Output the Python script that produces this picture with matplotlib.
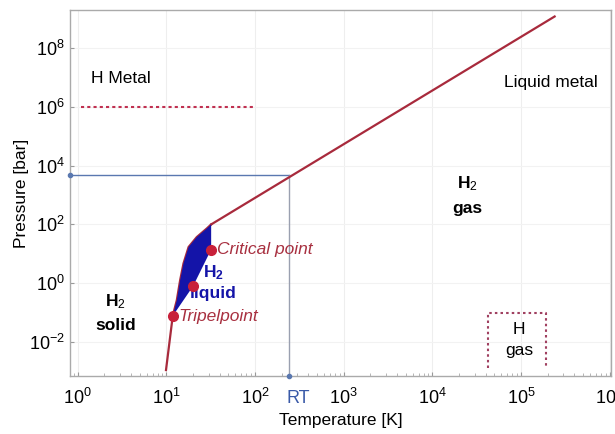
import matplotlib
matplotlib.use("Agg")
import matplotlib.pyplot as plt
from matplotlib.ticker import LogLocator, FixedLocator, NullFormatter

plt.rcParams['font.family'] = ['Liberation Sans', 'DejaVu Sans']
plt.rcParams['mathtext.fontset'] = 'custom'
plt.rcParams['mathtext.rm'] = 'Liberation Sans'
plt.rcParams['mathtext.it'] = 'Liberation Sans:italic'
plt.rcParams['mathtext.bf'] = 'Liberation Sans:bold'

# --- data ---
melt_T = [9.9, 11.8, 13.1, 14.3, 15.6, 17.8, 22, 28.6, 32]
melt_P = [1.1e-3, 0.077, 0.26, 1.27, 4.7, 17, 37, 73, 100]
high_T = [32, 2.4e5]
high_P = [100, 1.2e9]
boil_T = [11.8, 20, 32]
boil_P = [0.077, 0.79, 14]
crit_top_T = [32, 32]
crit_top_P = [100, 14]
point_T = [11.8, 20, 32]
point_P = [0.077, 0.79, 14]
metal_T = [1.1, 95]
metal_P = [1e6, 1e6]
hgas_T = [4.2e4, 4.2e4, 1.9e5, 1.9e5]
hgas_P = [1.3e-3, 0.1, 0.1, 1.3e-3]
RT_T = 240
RT_P = 4700
x_ticks = [1e0, 1e1, 1e2, 1e3, 1e4, 1e5, 1e6]
x_labels = ['$10^0$', '$10^1$', '$10^2$', '$10^3$', '$10^4$', '$10^5$', '$10^6$']
y_ticks = [1e-2, 1e0, 1e2, 1e4, 1e6, 1e8]
y_labels = ['$10^{-2}$', '$10^0$', '$10^2$', '$10^4$', '$10^6$', '$10^8$']

red = '#a82a3c'
navy = '#1414a8'
linecol = '#5a78b0'
textred = '#a83040'

fig = plt.figure(figsize=(6.15, 4.34), dpi=100)
ax = fig.add_axes([0.114, 0.134, 0.879, 0.843])
ax.set_xscale('log')
ax.set_yscale('log')
xmin, xmax = 0.82, 1.03e6
ymin, ymax = 7e-4, 2e9
ax.set_xlim(xmin, xmax)
ax.set_ylim(ymin, ymax)

# grid
for t in x_ticks:
    ax.axvline(t, color='#eeeeee', lw=0.8, zorder=0)
for t in y_ticks:
    ax.axhline(t, color='#f2f2f2', lw=0.8, zorder=0)

# RT guide lines
ax.plot([xmin, RT_T], [RT_P, RT_P], color=linecol, lw=1.0, zorder=2)
ax.plot([RT_T, RT_T], [ymin, RT_P], color='#9aa0b0', lw=1.0, zorder=2)
ax.plot([xmin], [RT_P], 'o', color=linecol, ms=3, clip_on=False, zorder=5)
ax.plot([RT_T], [ymin], 'o', color=linecol, ms=3, clip_on=False, zorder=5)

# phase lines
ax.plot(melt_T, melt_P, color=red, lw=1.6, zorder=3)
ax.plot(high_T, high_P, color=red, lw=1.6, zorder=3)

# liquid region
poly_T = melt_T[1:] + crit_top_T[1:] + boil_T[::-1][1:]
poly_P = melt_P[1:] + crit_top_P[1:] + boil_P[::-1][1:]
ax.fill(poly_T, poly_P, color=navy, zorder=4, lw=0)

ax.plot(point_T, point_P, 'o', color='#c8203a', ms=7, zorder=6)

# H metal line and H gas box
ax.plot(metal_T, metal_P, color='#c03050', lw=1.5, ls=(0, (1.5, 1.5)), zorder=3)
ax.plot(hgas_T, hgas_P, color='#a04060', lw=1.5, ls=(0, (1.2, 1.5)), zorder=3)

# texts
fs = 12.5
ax.text(1.4, 9e6, 'H Metal', fontsize=fs, va='center', ha='left')
ax.text(2.2e5, 7e6, 'Liquid metal', fontsize=fs, va='center', ha='center')
ax.text(2.5e4, 1.0e3, 'H$_2$\ngas', fontsize=fs, fontweight='bold', va='center',
        ha='center', linespacing=1.6)
ax.text(2.65, 0.1, 'H$_2$\nsolid', fontsize=fs, fontweight='bold', va='center',
        ha='center', linespacing=1.6)
ax.text(34, 1.1, '$\\mathbf{H_2}$\nliquid', fontsize=fs, fontweight='bold',
        color=navy, va='center', ha='center', linespacing=1.35, zorder=5)
ax.text(37, 14, 'Critical point', fontsize=fs, style='italic', color=textred,
        va='center', ha='left')
ax.text(13.6, 0.075, 'Tripelpoint', fontsize=fs, style='italic', color=textred,
        va='center', ha='left')
ax.text(9.5e4, 0.0115, 'H\ngas', fontsize=fs, va='center', ha='center', linespacing=1.5)

# axes styling
ax.xaxis.set_major_locator(FixedLocator(x_ticks))
ax.set_xticklabels(x_labels)
ax.xaxis.set_minor_locator(LogLocator(base=10, subs=range(2, 10), numticks=20))
ax.xaxis.set_minor_formatter(NullFormatter())
ax.yaxis.set_major_locator(FixedLocator(y_ticks))
ax.set_yticklabels(y_labels)
ax.yaxis.set_minor_locator(FixedLocator([]))
ax.tick_params(axis='both', which='major', labelsize=13, direction='in', length=3,
               color='#999999')
ax.tick_params(axis='x', which='major', pad=9)
ax.tick_params(axis='y', which='major', pad=4)
ax.tick_params(axis='x', which='minor', direction='in', length=2, color='#aaaaaa')
for s in ax.spines.values():
    s.set_color('#aaaaaa')
    s.set_linewidth(1.0)

ax.text(RT_T * 1.27, -0.062, 'RT', transform=ax.get_xaxis_transform(),
        fontsize=13, color='#3a5aa8', ha='center', va='center')
ax.set_xlabel('Temperature [K]', fontsize=12.5, labelpad=3)
ax.set_ylabel('Pressure [bar]', fontsize=12.5, labelpad=0)

fig.savefig('out.png', dpi=100)
